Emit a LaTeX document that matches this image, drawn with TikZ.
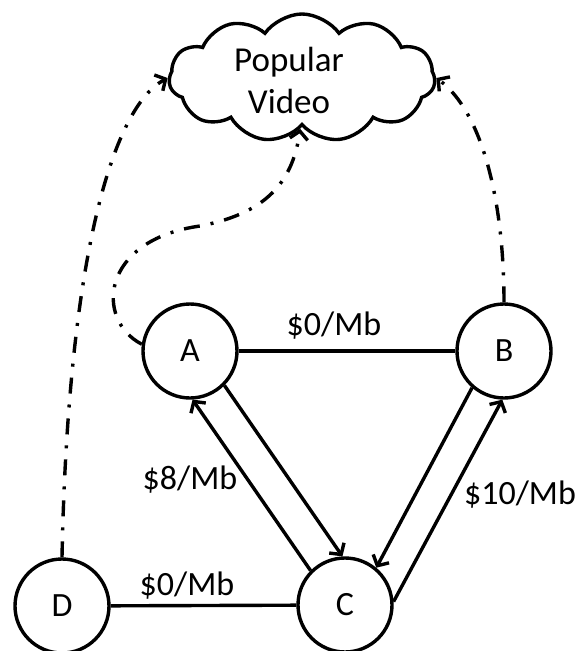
\documentclass[tikz,border=0pt]{standalone}
\usepackage{fontspec}
\setmainfont{Carlito}
\usetikzlibrary{arrows.meta,shapes.symbols}
\begin{document}
\begin{tikzpicture}[x=1pt,y=-1pt,
  every node/.style={font=\fontsize{34}{38}\selectfont},
  state/.style={circle,draw,line width=3.4pt,minimum size=94pt,inner sep=0pt},
  link/.style={line width=3.4pt},
  tip/.style={-{Straight Barb[length=8pt,width=18pt,line width=3.4pt]}},
  arr/.style={line width=3.4pt,tip},
  req/.style={line width=3.4pt,dash pattern=on 16pt off 11pt on 3pt off 11pt,tip},
  lbl/.style={inner sep=0pt}]
\useasboundingbox (0,0) rectangle (584,651);
\node[cloud,draw,line width=3.4pt,cloud puffs=11,cloud puff arc=110,aspect=2.2,minimum width=266pt,minimum height=128pt,inner sep=0pt] (V) at (302,78) {};
\node[lbl,align=center,font=\fontsize{35}{42}\selectfont] (vt) at (289,80) {Popular\\Video};
\node[state] (A) at (190,351) {A};
\node[state] (B) at (504,351) {B};
\node[state] (C) at (345,605) {C};
\node[state] (D) at (62,606) {D};
\draw[link] (A) -- (B);
\draw[link] (D) -- (C);
\draw[arr] (A.-45) -- (C.93);
\draw[arr] (C.135) -- (A.-87);
\draw[arr] (B.-131) -- (C.50);
\draw[arr] (C.4) -- (B.-92);
\draw[req] (D.north) .. controls (68,260) and (112,108) .. (V.180);
\draw[req] (A.172) .. controls (95,320) and (100,240) .. (200,226) .. controls (262,214) and (292,186) .. (V.-92);
\draw[req] (B.north) .. controls (504,200) and (482,112) .. (V.0);
\node[lbl] (l1) at (334,326) {\$0/Mb};
\node[lbl] (l2) at (190,480) {\$8/Mb};
\node[lbl] (l3) at (520,495) {\$10/Mb};
\node[lbl] (l4) at (187,586) {\$0/Mb};
\end{tikzpicture}
\end{document}
